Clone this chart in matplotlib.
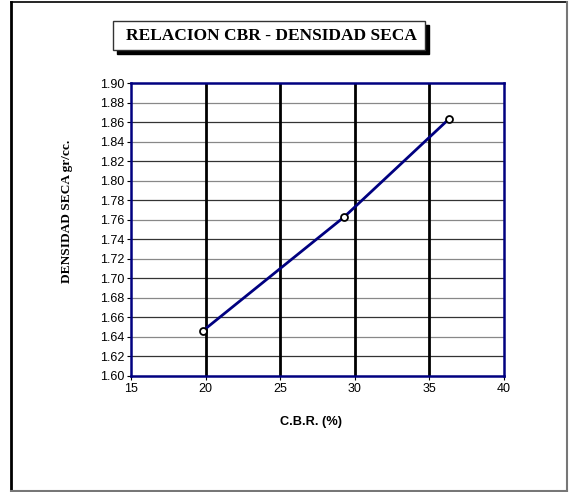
import numpy as np
import matplotlib.pyplot as plt
from matplotlib.patches import Rectangle
from matplotlib.lines import Line2D

# datos
cbr = [19.8, 29.3, 36.3]
densidad = [1.646, 1.763, 1.863]
xticks = [15, 20, 25, 30, 35, 40]
yticks = np.round(np.arange(1.60, 1.901, 0.02), 2)

W, H = 569, 492
fig = plt.figure(figsize=(W / 100, H / 100), dpi=100)

# marco exterior: izquierda/arriba negro, derecha/abajo gris
def fline(x0, y0, x1, y1, c, lw):
    fig.lines.append(Line2D([x0 / W, x1 / W], [1 - y0 / H, 1 - y1 / H],
                            transform=fig.transFigure, color=c, linewidth=lw))

fline(11, 2, 567, 2, 'black', 1.2)
fline(11, 2, 11, 491, 'black', 2)
fline(567, 2, 567, 491, '#777777', 1.5)
fline(11, 491, 567, 491, '#777777', 1.5)

# ejes (pixeles medidos sobre la referencia)
ax = fig.add_axes([131 / W, 1 - 376 / H, (504 - 131) / W, (376 - 83) / H])
ax.set_xlim(15, 40)
ax.set_ylim(1.60, 1.90)
ax.set_xticks(xticks)
ax.set_yticks(yticks)
ax.set_yticklabels([f'{v:.2f}' for v in yticks])
ax.tick_params(labelsize=9, direction='out', length=3, width=0.8, pad=2)
for lab in ax.get_xticklabels() + ax.get_yticklabels():
    lab.set_fontfamily('Liberation Sans')

for i, y in enumerate(yticks[1:-1]):
    ax.axhline(y, color='#333333' if i % 2 == 0 else '#888888', linewidth=0.9, zorder=1)
for x in xticks[1:-1]:
    ax.axvline(x, color='black', linewidth=2.0, zorder=1)

for s in ax.spines.values():
    s.set_color('#000080')
    s.set_linewidth(1.8)

ax.plot(cbr, densidad, color='#000080', linewidth=2, zorder=3)
ax.plot(cbr, densidad, linestyle='none', marker='o', markersize=5,
        markerfacecolor='white', markeredgecolor='black', markeredgewidth=1.3, zorder=4)

# titulo en caja con sombra
fig.patches.append(Rectangle((117 / W, 1 - 54 / H), 312 / W, 29 / H, transform=fig.transFigure,
                             facecolor='black', edgecolor='black', zorder=1))
fig.patches.append(Rectangle((113 / W, 1 - 50 / H), 312 / W, 29 / H, transform=fig.transFigure,
                             facecolor='white', edgecolor='#333333', linewidth=1, zorder=2))
fig.text(271 / W, 1 - 35.5 / H, 'RELACION CBR - DENSIDAD SECA', ha='center', va='center',
         fontsize=12.5, fontweight='bold', family='Liberation Serif', zorder=3)

fig.text(67 / W, 1 - 211 / H, 'DENSIDAD SECA gr/cc.', rotation=90, ha='center', va='center',
         fontsize=9.6, fontweight='bold', family='Liberation Serif')
fig.text(311 / W, 1 - 422 / H, 'C.B.R. (%)', ha='center', va='center',
         fontsize=9.2, fontweight='bold', family='Liberation Sans')

fig.savefig('out.png', dpi=100)
